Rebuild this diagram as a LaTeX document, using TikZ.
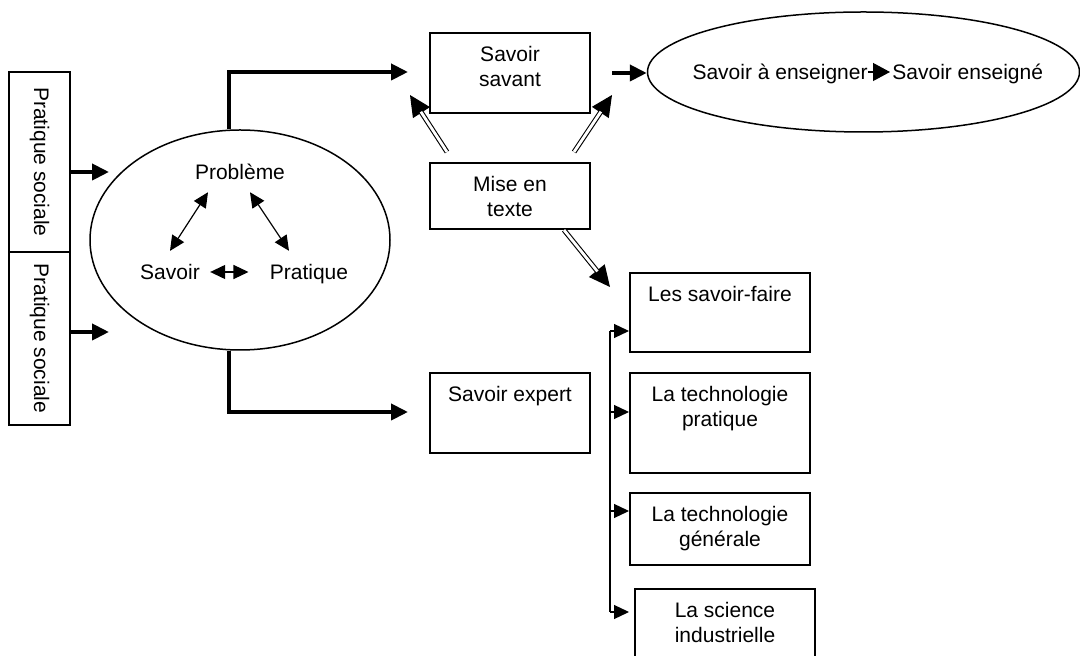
\documentclass[tikz,border=0pt]{standalone}
\usepackage{fontspec}
\setmainfont{Liberation Sans}
\usetikzlibrary{arrows.meta, calc, positioning, shapes.geometric}

\newcommand{\txt}{\fontsize{10.5}{12.5}\selectfont}
\newcommand{\boite}[3]{\parbox[t][#2][t]{#1}{\centering\vspace*{6.8pt}#3}}

\tikzset{
    cadre/.style={draw, line width=1pt, inner sep=0pt, anchor=north west},
    colonne/.style={draw, line width=1pt, inner sep=0pt, rotate=-90, minimum height=30.5pt},
    bulle/.style={draw, ellipse, line width=0.75pt, inner sep=0pt},
    mot/.style={inner sep=0pt},
    fleche/.style={line width=2pt, -{Triangle[length=8.5pt,width=8pt]}},
    fine/.style={line width=0.6pt},
    pointe/.style={fine, -{Triangle[length=7.5pt,width=7pt]}},
    dpointe/.style={fine, {Triangle[length=7.5pt,width=7pt]}-{Triangle[length=7.5pt,width=7pt]}},
    creuse/.style={line width=0.55pt, -{Triangle[length=10.5pt,width=10pt]},
        postaction={draw, -, double, double distance=1.4pt, shorten >=10pt}}
}

\begin{document}
\begin{tikzpicture}[x=0.5pt, y=-0.5pt]
    \def \gap {10.5pt}
    \clip (0,0) rectangle (1080,656);
    \tikzstyle{every node}=[font=\txt];
    % pratique sociale
    \node[colonne, minimum width=90pt] (ps1) at (39.5,162) {Pratique sociale};
    \node[colonne, minimum width=86.5pt] (ps2) at (39.5,338.5) {Pratique sociale};
    % probleme / savoir / pratique
    \node[bulle, minimum width=150pt, minimum height=110pt] (pbell) at (240,240) {};
    \node[mot] (pb) at (240,172) {Problème};
    \node[mot] (sv) at (170,272) {Savoir};
    \node[mot] (pr) at (309,274) {Pratique};
    \draw[dpointe] ([shift={(-32,12)}]pb.south) -- ([shift={(0,-13)}]sv.north);
    \draw[dpointe] ([shift={(10,12)}]pb.south) -- ([shift={(-20,-13)}]pr.north);
    \draw[dpointe, shorten <=5pt, shorten >=\gap] (sv.east) -- (sv.east -| pr.west);
    \coordinate (a1) at (109,172);
    \coordinate (a2) at (109,332);
    \draw[fleche] (a1 -| ps1.north) -- (a1);
    \draw[fleche] (a2 -| ps2.north) -- (a2);
    % boites
    \node[cadre] (savant) at (429,32) {\boite{80pt}{40pt}{Savoir\\savant}};
    \node[cadre] (mise) at (429,162) {\boite{80pt}{33pt}{Mise en\\texte}};
    \node[cadre] (expert) at (429,372) {\boite{80pt}{40pt}{Savoir expert}};
    \node[cadre] (faire) at (629,272) {\boite{90pt}{39.5pt}{Les savoir-faire}};
    \node[cadre] (techp) at (629,372) {\boite{90pt}{50pt}{La technologie\\pratique}};
    \node[cadre] (techg) at (629,492) {\boite{90pt}{36pt}{La technologie\\générale}};
    \node[cadre] (indus) at (634,588) {\boite{90pt}{40pt}{La science\\industrielle}};
    % savoir a enseigner
    \node[bulle, minimum width=216pt, minimum height=60pt] (ens) at (863.5,72) {};
    \node[mot, anchor=base east] (ens1) at (868,79.5) {Savoir à enseigner};
    \node[mot, anchor=base west] (ens2) at (892,79.5) {Savoir enseigné};
    \draw[fine, -{Triangle[length=8.5pt,width=9pt]}, shorten >=1pt] (ens1.east |- ens) -- (ens2.west |- ens);
    % grosses fleches
    \coordinate (up) at (229,72);
    \coordinate (dn) at (229,412);
    \draw[fleche, shorten >=\gap] (up |- pbell.north) -- (up) -- (up -| savant.west);
    \draw[fleche, shorten >=\gap] (dn |- pbell.south) -- (dn) -- (dn -| expert.west);
    \draw[fleche] ([xshift=\gap]savant.east) -- (savant.east -| ens.west);
    % mise en texte
    \draw[creuse] ([shift={(18,-10)}]mise.north west) -- ([shift={(-19,-19)}]savant.south west);
    \draw[creuse] ([shift={(-17,-10)}]mise.north east) -- ([shift={(21,-19)}]savant.south east);
    \draw[creuse] ([shift={(-27,0)}]mise.south east) -- ([shift={(-19,15)}]faire.north west);
    % accolade
    \coordinate (b1) at (610,331);
    \coordinate (b2) at (610,412);
    \coordinate (b3) at (610,511);
    \coordinate (b4) at (610,612);
    \draw[fine] (b1) -- (b4);
    \draw[pointe] (b1) -- (b1 -| faire.west);
    \draw[pointe] (b2) -- (b2 -| techp.west);
    \draw[pointe] (b3) -- (b3 -| techg.west);
    \draw[pointe, shorten >=2.5pt] (b4) -- (b4 -| indus.west);
\end{tikzpicture}
\end{document}
